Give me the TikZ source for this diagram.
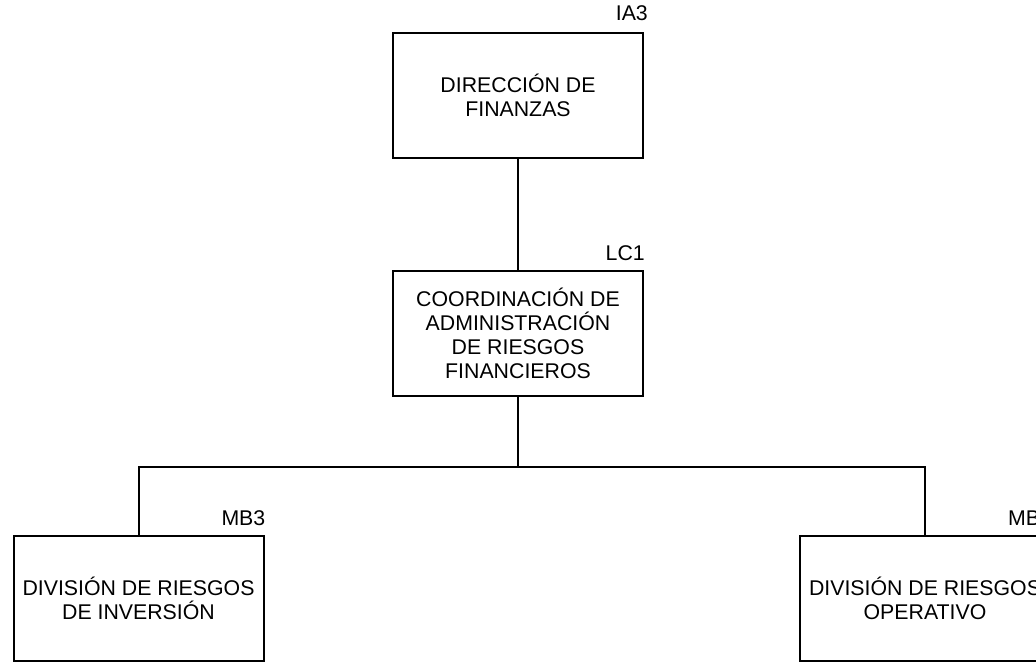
\documentclass[tikz,border=0pt]{standalone}
\usepackage{fontspec}
\setmainfont{Liberation Sans}
\usetikzlibrary{positioning}
\tikzset{
    unit/.style={draw=black, line width=2pt, fill=white, minimum width=250pt, minimum height=125pt, align=center, font=\fontsize{21.3}{24}\selectfont},
    code/.style={anchor=base east, inner sep=0pt, font=\fontsize{21.3}{24}\selectfont},
    link/.style={draw=black, line width=2pt}
}
\begin{document}
\begin{tikzpicture}[x=1pt, y=-1pt]
    \useasboundingbox (0,0) rectangle (1036,664);
    \clip (0,0) rectangle (1036,664);

    % Boxes
    \node[unit] (direccion) at (518, 95) {DIRECCIÓN DE\\FINANZAS};
    \node[unit] (coordinacion) at (518, 333.5) {COORDINACIÓN DE\\ADMINISTRACIÓN\\DE RIESGOS\\FINANCIEROS};
    \node[unit] (inversion) at (138.5, 598) {DIVISIÓN DE RIESGOS\\DE INVERSIÓN};
    \node[unit] (operativo) at (925, 598) {DIVISIÓN DE RIESGOS\\OPERATIVO};

    % Codes
    \node[code] (ia3) at ([xshift=4pt, yshift=11pt]direccion.north east) {IA3};
    \node[code] (lc1) at ([xshift=1pt, yshift=10pt]coordinacion.north east) {LC1};
    \node[code] (mb3a) at ([xshift=1pt, yshift=9pt]inversion.north east) {MB3};
    \node[code] (mb3b) at ([xshift=1pt, yshift=9pt]operativo.north east) {MB3};

    % Connections
    \coordinate (bus) at (518, 467);
    \draw[link] (direccion) -- (coordinacion);
    \draw[link] (coordinacion) -- (bus);
    \draw[link] (bus) -| (inversion);
    \draw[link] (bus) -| (operativo);
\end{tikzpicture}
\end{document}
